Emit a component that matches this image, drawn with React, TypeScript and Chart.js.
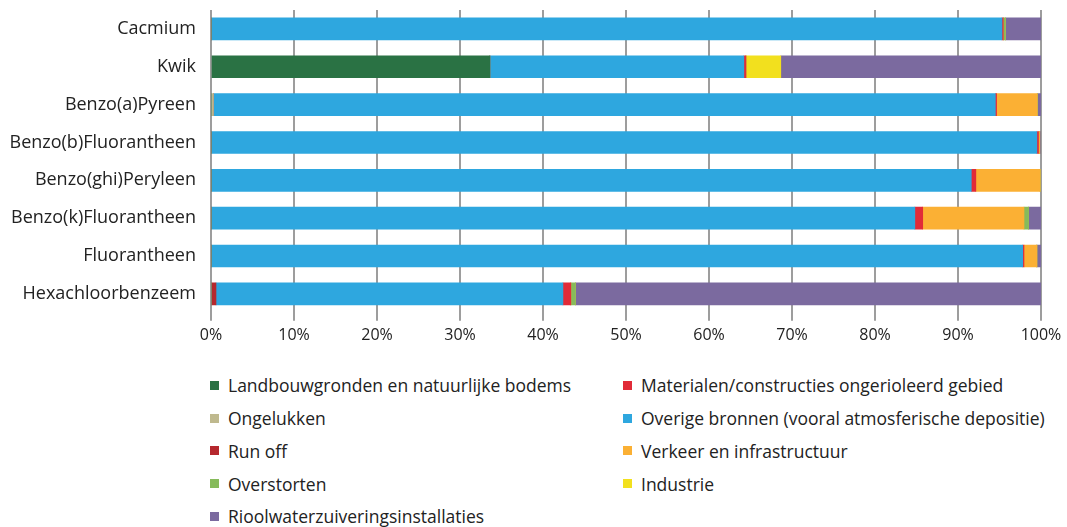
import React, { useEffect, useRef } from "react";
import { Chart, registerables } from "chart.js";

Chart.register(...registerables);

const categories = [
  "Cacmium",
  "Kwik",
  "Benzo(a)Pyreen",
  "Benzo(b)Fluorantheen",
  "Benzo(ghi)Peryleen",
  "Benzo(k)Fluorantheen",
  "Fluorantheen",
  "Hexachloorbenzeem",
];

const seriesNames = [
  "Landbouwgronden en natuurlijke bodems",
  "Materialen/constructies ongerioleerd gebied",
  "Ongelukken",
  "Overige bronnen (vooral atmosferische depositie)",
  "Run off",
  "Verkeer en infrastructuur",
  "Overstorten",
  "Industrie",
  "Rioolwaterzuiveringsinstallaties",
];

const landbouw = [0, 33.6, 0, 0, 0, 0, 0, 0];
const materialen = [0.15, 0.25, 0.15, 0.2, 0.55, 0.95, 0.15, 0.95];
const ongelukken = [0, 0, 0.3, 0, 0, 0, 0, 0];
const overige = [95.3, 30.6, 94.2, 99.5, 91.6, 84.8, 97.8, 41.8];
const runOff = [0, 0, 0, 0, 0, 0, 0, 0.6];
const verkeer = [0, 0, 4.9, 0.15, 7.75, 12.2, 1.55, 0];
const overstorten = [0.25, 0, 0, 0, 0, 0.55, 0, 0.55];
const industrie = [0, 4.2, 0, 0, 0, 0, 0, 0];
const riool = [4.3, 31.35, 0.45, 0.15, 0.1, 1.5, 0.5, 56.1];

const seriesValues = [landbouw, materialen, ongelukken, overige, runOff, verkeer, overstorten, industrie, riool];
const seriesColors = ["#2a7244", "#e12b38", "#bfb98e", "#2ea7df", "#b5282e", "#fbb034", "#86bb5b", "#f2e01e", "#7b6a9f"];
// stacking order seen in the bars
const stackOrder = [0, 4, 1, 3, 2, 5, 6, 7, 8];

const xTicks = [0, 10, 20, 30, 40, 50, 60, 70, 80, 90, 100];

const FONT = "'Open Sans', 'DejaVu Sans', sans-serif";

export default function App() {
  const ref = useRef<HTMLCanvasElement | null>(null);

  useEffect(() => {
    if (!ref.current) return;
    const chart = new Chart(ref.current, {
      type: "bar",
      data: {
        labels: categories,
        datasets: seriesNames.map((name, i) => ({
          label: name,
          data: seriesValues[i],
          backgroundColor: seriesColors[i],
          borderWidth: 0,
          barThickness: 22,
          order: stackOrder[i],
        })),
      },
      options: {
        indexAxis: "y",
        animation: false,
        responsive: true,
        maintainAspectRatio: false,
        layout: { padding: { top: 0, right: 26, left: 0, bottom: 0 } },
        plugins: { legend: { display: false }, tooltip: { enabled: false } },
        scales: {
          x: {
            stacked: true,
            min: 0,
            max: 100,
            afterBuildTicks: (scale: any) => {
              scale.ticks = xTicks.map((v) => ({ value: v }));
            },
            grid: { color: "#9d9d9d", lineWidth: 2, tickLength: 8, drawTicks: true },
            border: { display: false },
            ticks: {
              color: "#222",
              font: { family: FONT, size: 16 },
              padding: 5,
              callback: (v: any) => v + "%",
            },
          },
          y: {
            stacked: true,
            grid: { display: false },
            border: { display: false },
            afterFit: (scale: any) => {
              scale.width = 211;
              scale.paddingTop = 10;
              scale.paddingBottom = 0;
            },
            ticks: {
              color: "#222",
              font: { family: FONT, size: 18 },
              padding: 7,
            },
          },
        },
      },
    });
    return () => chart.destroy();
  }, []);

  return (
    <div style={{ position: "absolute", left: 0, top: 0, width: 1067, height: 527, background: "#fff", overflow: "hidden" }}>
      <div style={{ position: "absolute", left: 0, top: 0, width: 1067, height: 350 }}>
        <canvas ref={ref} />
      </div>
      <div
        style={{
          position: "absolute",
          left: 210,
          top: 369,
          display: "grid",
          gridTemplateColumns: "413px 444px",
          gridAutoRows: "32.75px",
          fontFamily: FONT,
          fontSize: 17.5,
          color: "#222",
        }}
      >
        {seriesNames.map((name, i) => (
          <div key={name} style={{ display: "flex", alignItems: "center", whiteSpace: "nowrap" }}>
            <span style={{ display: "inline-block", flexShrink: 0, width: 9, height: 9, background: seriesColors[i], marginRight: 9 }} />
            <span>{name}</span>
          </div>
        ))}
      </div>
    </div>
  );
}
